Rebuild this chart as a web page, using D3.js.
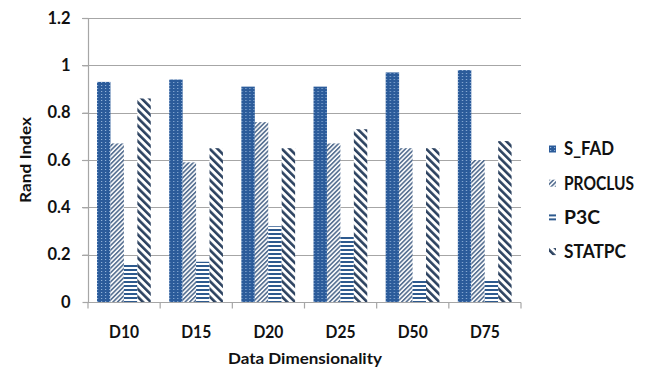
<!DOCTYPE html>
<html><head><meta charset="utf-8">
<script src="https://cdn.jsdelivr.net/npm/d3@7"></script>
<style>
html,body{margin:0;padding:0;background:#fff;}
svg{display:block;}
text{font-family:Lato,"Open Sans",sans-serif;font-weight:bold;fill:#111;}
</style></head>
<body>
<svg id="chart" width="648" height="368"></svg>
<script>
const categories = ["D10","D15","D20","D25","D50","D75"];
const seriesNames = ["S_FAD","PROCLUS","P3C","STATPC"];
const sFad    = [0.93,0.94,0.91,0.91,0.97,0.98];
const proclus = [0.67,0.59,0.76,0.67,0.65,0.60];
const p3c     = [0.16,0.17,0.32,0.28,0.09,0.09];
const statpc  = [0.86,0.65,0.65,0.73,0.65,0.68];
const yTicks  = [0,0.2,0.4,0.6,0.8,1,1.2];
const yTickLabels = ["0","0.2","0.4","0.6","0.8","1","1.2"];
const seriesValues = [sFad, proclus, p3c, statpc];

const svg = d3.select("#chart");
const margin = {left:88, right:127, top:18, bottom:66};
const W = 648, H = 368;

// patterns
const defs = svg.append("defs");
let p = defs.append("pattern").attr("id","pat0").attr("patternUnits","userSpaceOnUse").attr("width",4).attr("height",3);
p.append("rect").attr("width",4).attr("height",3).attr("fill","#2b5b9a");
p.append("rect").attr("x",1).attr("y",1).attr("width",1.2).attr("height",1).attr("fill","#8fb0d8");
p = defs.append("pattern").attr("id","pat1").attr("patternUnits","userSpaceOnUse").attr("width",3.2).attr("height",3.2).attr("patternTransform","rotate(45)");
p.append("rect").attr("width",3.2).attr("height",3.2).attr("fill","#ffffff");
p.append("rect").attr("x",0).attr("y",0).attr("width",1.7).attr("height",3.2).attr("fill","#5a7394");
p = defs.append("pattern").attr("id","pat2").attr("patternUnits","userSpaceOnUse").attr("width",4).attr("height",4);
p.append("rect").attr("width",4).attr("height",4).attr("fill","#ffffff");
p.append("rect").attr("x",0).attr("y",1).attr("width",4).attr("height",2).attr("fill","#2e5a8e");
p = defs.append("pattern").attr("id","pat3").attr("patternUnits","userSpaceOnUse").attr("width",5.5).attr("height",5.5).attr("patternTransform","rotate(-45)");
p.append("rect").attr("width",5.5).attr("height",5.5).attr("fill","#ffffff");
p.append("rect").attr("x",0).attr("y",0).attr("width",2.6).attr("height",5.5).attr("fill","#2c4260");

const x = d3.scaleBand().domain(categories).range([margin.left, W - margin.right]).paddingInner(0).paddingOuter(0);
const y = d3.scaleLinear().domain([0,1.2]).range([H - margin.bottom, margin.top]);
const bw = x.bandwidth();
const xs = d3.scaleBand().domain(seriesNames).range([bw*0.125, bw*0.87]).padding(0);

svg.append("g").selectAll("line").data(yTicks.slice(1)).join("line")
  .attr("x1", margin.left - 6).attr("x2", W - margin.right)
  .attr("y1", d => Math.round(y(d))+0.5).attr("y2", d => Math.round(y(d))+0.5)
  .attr("stroke","#a6a6a6").attr("stroke-width",1.2);

const groups = svg.append("g").selectAll("g").data(categories).join("g")
  .attr("transform", d => `translate(${x(d)},0)`);
groups.selectAll("rect").data((c,i) => seriesNames.map((s,j) => ({s, j, v: seriesValues[j][i]}))).join("rect")
  .attr("x", d => xs(d.s)).attr("width", xs.bandwidth())
  .attr("y", d => y(d.v)).attr("height", d => y(0) - y(d.v))
  .attr("fill", d => `url(#pat${d.j})`);

const yAxis = d3.axisLeft(y).tickValues(yTicks).tickFormat((d,i) => yTickLabels[i]).tickSize(6).tickPadding(12);
const gy = svg.append("g").attr("transform", `translate(${margin.left+0.5},0)`).call(yAxis);
gy.selectAll("line").attr("stroke","#a6a6a6").attr("stroke-width",1.2);
gy.select(".domain").attr("stroke","#a6a6a6").attr("stroke-width",1.2).attr("d", `M0,${y(0)}V${y(1.2)}`);
gy.selectAll("text").attr("font-size",16.5).attr("font-family","Lato").attr("font-weight","bold").attr("fill","#111");

const gx = svg.append("g").attr("transform", `translate(0,${Math.round(y(0))+0.5})`);
gx.append("line").attr("x1", margin.left).attr("x2", W - margin.right).attr("stroke","#a6a6a6").attr("stroke-width",1.2);
const boundaries = categories.map(c => x(c)).concat([x(categories[categories.length-1]) + bw]);
gx.selectAll("line.tk").data(boundaries).join("line").attr("class","tk")
  .attr("x1", d => d).attr("x2", d => d).attr("y1",0).attr("y2",6)
  .attr("stroke","#a6a6a6").attr("stroke-width",1.2);
gx.selectAll("text").data(categories).join("text")
  .attr("x", d => x(d) + bw/2).attr("y", 35)
  .attr("text-anchor","middle").attr("font-size",16.5)
  .attr("textLength",30).attr("lengthAdjust","spacingAndGlyphs").text(d => d);

svg.append("text").attr("x", 305).attr("y", 364)
  .attr("text-anchor","middle").attr("font-size",16)
  .attr("textLength",154).attr("lengthAdjust","spacingAndGlyphs").text("Data Dimensionality");
svg.append("text").attr("transform", `translate(31,${(y(0)+y(1.2))/2}) rotate(-90)`)
  .attr("text-anchor","middle").attr("font-size",16)
  .attr("textLength",86).attr("lengthAdjust","spacingAndGlyphs").text("Rand Index");

const legendWidths = [50,70,36,62];
const legend = svg.append("g").selectAll("g").data(seriesNames).join("g")
  .attr("transform", (d,i) => `translate(549,${149 + i*34.2})`);
legend.append("rect").attr("x",0).attr("y",-3.5).attr("width",7).attr("height",7)
  .attr("fill", (d,i) => `url(#pat${i})`);
legend.append("text").attr("x",15).attr("y",0).attr("dy","0.36em").attr("font-size",18)
  .attr("textLength",(d,i) => legendWidths[i]).attr("lengthAdjust","spacingAndGlyphs").text(d => d);
</script>
</body></html>
